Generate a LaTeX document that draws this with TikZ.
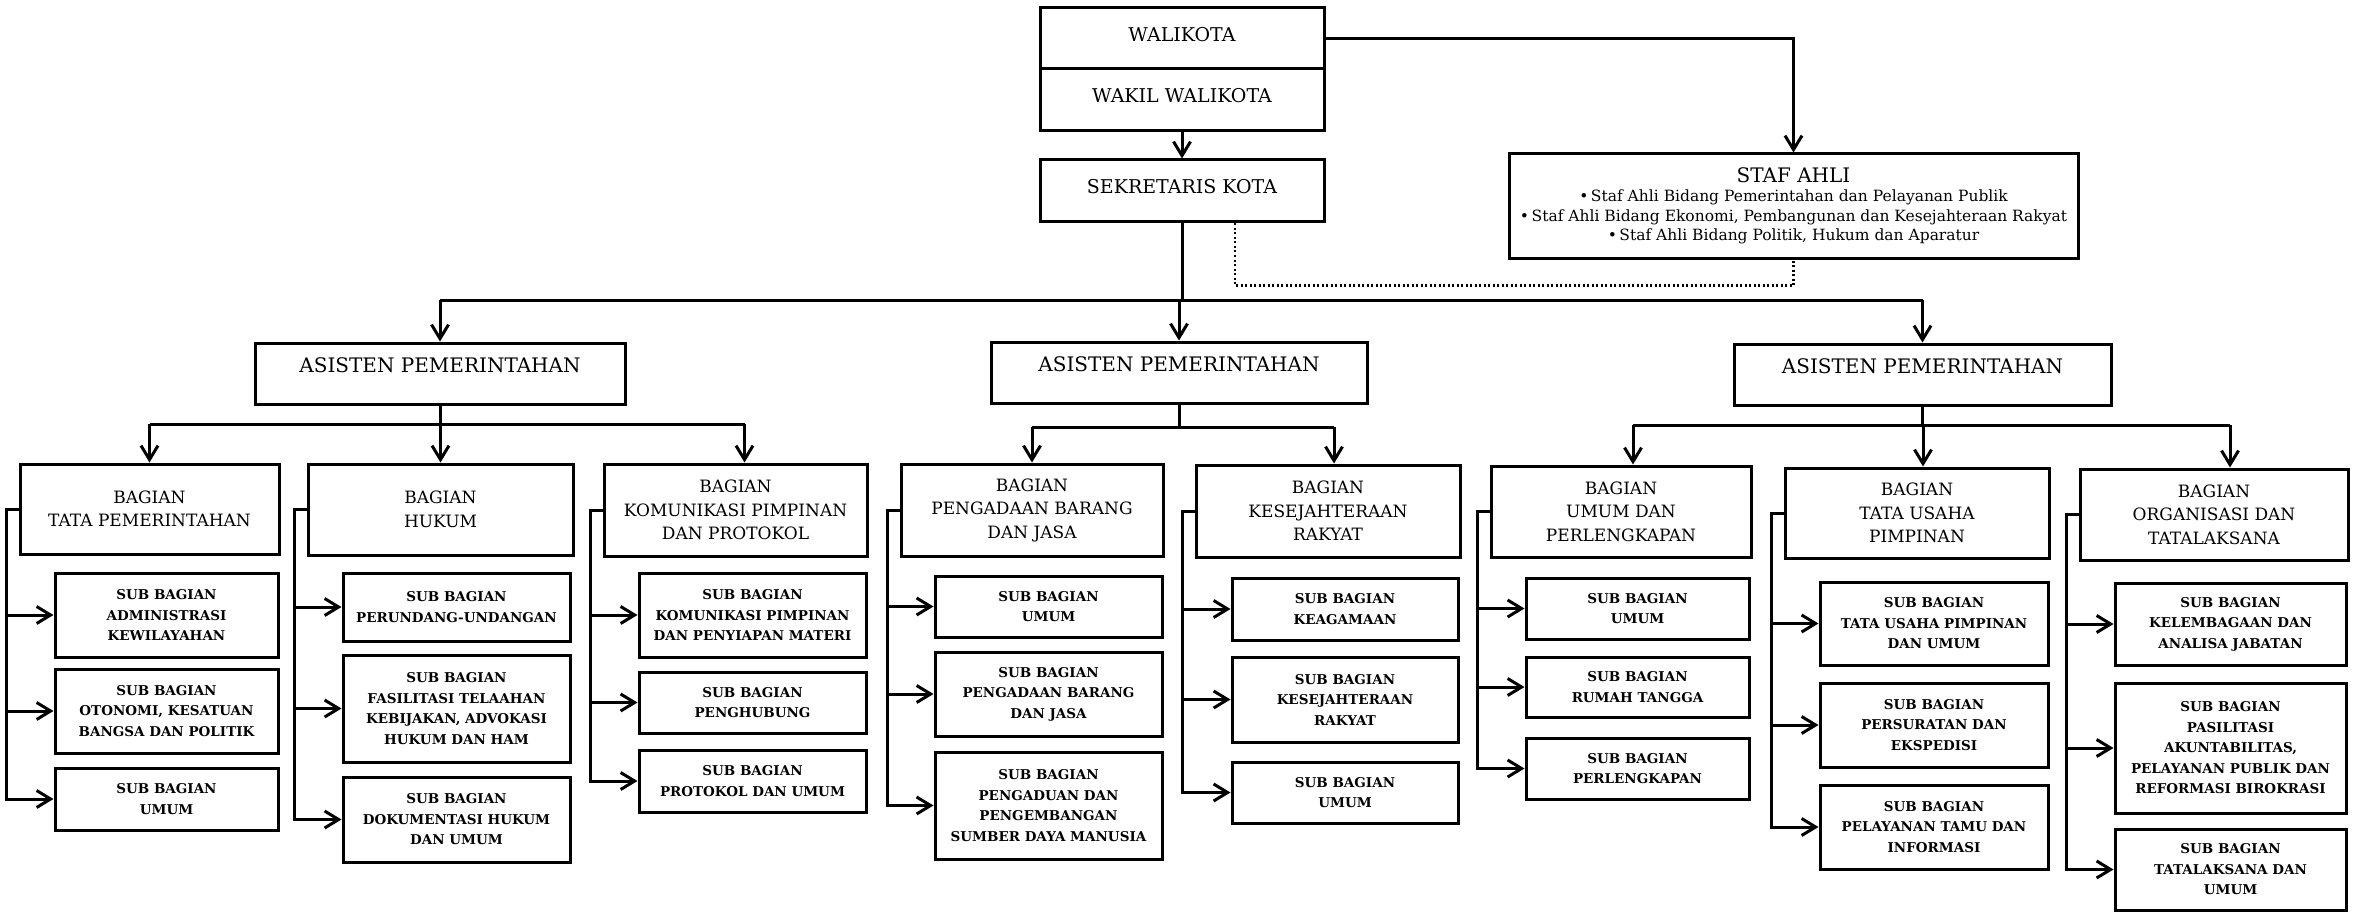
\documentclass[tikz,border=0pt]{standalone}
\usepackage{fontspec}
\setmainfont{DejaVu Serif}
\usetikzlibrary{arrows.meta,calc}
\tikzset{
  orgbase/.style={draw, line width=3pt, inner sep=2pt, align=center},
  topbox/.style={orgbase, font=\fontsize{19}{23}\selectfont, text depth=9pt},
  asisbox/.style={orgbase, font=\fontsize{20}{24}\selectfont, text depth=16pt},
  bagbox/.style={orgbase, font=\fontsize{17}{23.5}\selectfont},
  subbox/.style={orgbase, font=\bfseries\fontsize{13.5}{20.5}\selectfont},
  stafbox/.style={orgbase, font=\fontsize{15.5}{19.5}\selectfont},
  arr/.style={-{Straight Barb[length=14pt,width=17pt]}},
  dotline/.style={line width=2.8pt, dash pattern=on 2pt off 2.5pt},
}
\newcommand\orgbox[7]{%
  \node[#1, minimum width={(#5-#3)*1pt}, minimum height={(#6-#4)*1pt}]
    (#2) at ({(#3+#5)/2},{(#4+#6)/2}) {#7};}
\newcommand\orgbracket[4]{%
  \draw[arr] (#1.west) -- ++(-12pt,0) coordinate (v#1) |- (#4.west);
  \draw[arr] (v#1 |- #2.west) -- (#2.west);
  \draw[arr] (v#1 |- #3.west) -- (#3.west);}
\begin{document}
\begin{tikzpicture}[x=1pt,y=-1pt,line width=3pt]
\useasboundingbox (0,0) rectangle (2356,912);
\fill[white] (0,0) rectangle (2356,912);

% top
\orgbox{topbox}{wali}{1040}{8}{1324}{69}{WALIKOTA}
\orgbox{topbox}{wakil}{1040}{69}{1324}{131}{WAKIL WALIKOTA}
\orgbox{topbox}{sekda}{1040}{160}{1324}{222}{SEKRETARIS KOTA}
\orgbox{stafbox}{staf}{1509}{154}{2078}{258}{{\fontsize{20}{23}\selectfont STAF AHLI}\\
 •\,Staf Ahli Bidang Pemerintahan dan Pelayanan Publik\\
 •\,Staf Ahli Bidang Ekonomi, Pembangunan dan Kesejahteraan Rakyat\\
 •\,Staf Ahli Bidang Politik, Hukum dan Aparatur}

% asisten
\orgbox{asisbox}{as1}{255}{343}{625}{404}{ASISTEN PEMERINTAHAN}
\orgbox{asisbox}{as2}{991}{342}{1367}{403}{ASISTEN PEMERINTAHAN}
\orgbox{asisbox}{as3}{1734}{344}{2111}{405}{ASISTEN PEMERINTAHAN}

% bagian
\orgbox{bagbox}{b1}{20}{464}{279}{554}{BAGIAN\\TATA PEMERINTAHAN}
\orgbox{bagbox}{b2}{308}{464}{573}{555}{BAGIAN\\HUKUM}
\orgbox{bagbox}{b3}{604}{464}{867}{556}{BAGIAN\\KOMUNIKASI PIMPINAN\\DAN PROTOKOL}
\orgbox{bagbox}{b4}{901}{464}{1163}{556}{BAGIAN\\PENGADAAN BARANG\\DAN JASA}
\orgbox{bagbox}{b5}{1196}{465}{1460}{557}{BAGIAN\\KESEJAHTERAAN\\RAKYAT}
\orgbox{bagbox}{b6}{1491}{466}{1751}{557}{BAGIAN\\UMUM DAN\\PERLENGKAPAN}
\orgbox{bagbox}{b7}{1785}{468}{2049}{558}{BAGIAN\\TATA USAHA\\PIMPINAN}
\orgbox{bagbox}{b8}{2080}{469}{2348}{560}{BAGIAN\\ORGANISASI DAN\\TATALAKSANA}

% sub bagian
\orgbox{subbox}{s11}{55}{573}{278}{657}{SUB BAGIAN\\ADMINISTRASI\\KEWILAYAHAN}
\orgbox{subbox}{s12}{55}{669}{278}{753}{SUB BAGIAN\\OTONOMI, KESATUAN\\BANGSA DAN POLITIK}
\orgbox{subbox}{s13}{55}{768}{278}{830}{SUB BAGIAN\\UMUM}

\orgbox{subbox}{s21}{343}{573}{570}{641}{SUB BAGIAN\\PERUNDANG-UNDANGAN}
\orgbox{subbox}{s22}{343}{655}{570}{762}{SUB BAGIAN\\FASILITASI TELAAHAN\\KEBIJAKAN, ADVOKASI\\HUKUM DAN HAM}
\orgbox{subbox}{s23}{343}{777}{570}{862}{SUB BAGIAN\\DOKUMENTASI HUKUM\\DAN UMUM}

\orgbox{subbox}{s31}{639}{573}{866}{657}{SUB BAGIAN\\KOMUNIKASI PIMPINAN\\DAN PENYIAPAN MATERI}
\orgbox{subbox}{s32}{639}{672}{866}{733}{SUB BAGIAN\\PENGHUBUNG}
\orgbox{subbox}{s33}{639}{750}{866}{812}{SUB BAGIAN\\PROTOKOL DAN UMUM}

\orgbox{subbox}{s41}{935}{576}{1162}{637}{SUB BAGIAN\\UMUM}
\orgbox{subbox}{s42}{935}{652}{1162}{736}{SUB BAGIAN\\PENGADAAN BARANG\\DAN JASA}
\orgbox{subbox}{s43}{935}{752}{1162}{859}{SUB BAGIAN\\PENGADUAN DAN\\PENGEMBANGAN\\SUMBER DAYA MANUSIA}

\orgbox{subbox}{s51}{1232}{578}{1458}{640}{SUB BAGIAN\\KEAGAMAAN}
\orgbox{subbox}{s52}{1232}{657}{1458}{742}{SUB BAGIAN\\KESEJAHTERAAN\\RAKYAT}
\orgbox{subbox}{s53}{1232}{762}{1458}{823}{SUB BAGIAN\\UMUM}

\orgbox{subbox}{s61}{1526}{578}{1749}{639}{SUB BAGIAN\\UMUM}
\orgbox{subbox}{s62}{1526}{657}{1749}{717}{SUB BAGIAN\\RUMAH TANGGA}
\orgbox{subbox}{s63}{1526}{738}{1749}{799}{SUB BAGIAN\\PERLENGKAPAN}

\orgbox{subbox}{s71}{1820}{582}{2048}{665}{SUB BAGIAN\\TATA USAHA PIMPINAN\\DAN UMUM}
\orgbox{subbox}{s72}{1820}{683}{2048}{767}{SUB BAGIAN\\PERSURATAN DAN\\EKSPEDISI}
\orgbox{subbox}{s73}{1820}{785}{2048}{869}{SUB BAGIAN\\PELAYANAN TAMU DAN\\INFORMASI}

\orgbox{subbox}{s81}{2115}{583}{2346}{665}{SUB BAGIAN\\KELEMBAGAAN DAN\\ANALISA JABATAN}
\orgbox{subbox}{s82}{2115}{683}{2346}{813}{SUB BAGIAN\\PASILITASI\\AKUNTABILITAS,\\PELAYANAN PUBLIK DAN\\REFORMASI BIROKRASI}
\orgbox{subbox}{s83}{2115}{829}{2346}{910}{SUB BAGIAN\\TATALAKSANA DAN\\UMUM}

% top connectors
\draw[arr] (wali.east) -| (staf.north);
\draw[arr] (wakil.south) -- (sekda.north);
\draw[dotline] ([xshift=53pt]sekda.south) -- ++(0,-62pt) -| (staf.south);

\coordinate (bus0) at (1182,300);
\draw (sekda.south) -- (sekda.south |- bus0);
\draw (as1.north |- bus0) -- (as3.north |- bus0);
\foreach \n in {as1,as2,as3} \draw[arr] (\n.north |- bus0) -- (\n.north);

% entry points on the bagian boxes (as in the reference, not all centred)
\coordinate (t1) at (b1.north);
\coordinate (t2) at (b2.north);
\coordinate (t3) at ([xshift=9pt]b3.north);
\coordinate (t4) at (b4.north);
\coordinate (t5) at ([xshift=6pt]b5.north);
\coordinate (t6) at ([xshift=12pt]b6.north);
\coordinate (t7) at ([xshift=6pt]b7.north);
\coordinate (t8) at ([xshift=16pt]b8.north);

\coordinate (bus1) at (440,424);
\draw (as1.south) -- (as1.south |- bus1);
\draw (t1 |- bus1) -- (t3 |- bus1);
\foreach \n in {t1,t2,t3} \draw[arr] (\n |- bus1) -- (\n);

\coordinate (bus2) at (1180,427);
\draw (as2.south) -- (as2.south |- bus2);
\draw (t4 |- bus2) -- (t5 |- bus2);
\foreach \n in {t4,t5} \draw[arr] (\n |- bus2) -- (\n);

\coordinate (bus3) at (1922,425);
\draw (as3.south) -- (as3.south |- bus3);
\draw (t6 |- bus3) -- (t8 |- bus3);
\foreach \n in {t6,t7,t8} \draw[arr] (\n |- bus3) -- (\n);

% brackets to sub bagian
\orgbracket{b1}{s11}{s12}{s13}
\orgbracket{b2}{s21}{s22}{s23}
\orgbracket{b3}{s31}{s32}{s33}
\orgbracket{b4}{s41}{s42}{s43}
\orgbracket{b5}{s51}{s52}{s53}
\orgbracket{b6}{s61}{s62}{s63}
\orgbracket{b7}{s71}{s72}{s73}
\orgbracket{b8}{s81}{s82}{s83}
\end{tikzpicture}
\end{document}
